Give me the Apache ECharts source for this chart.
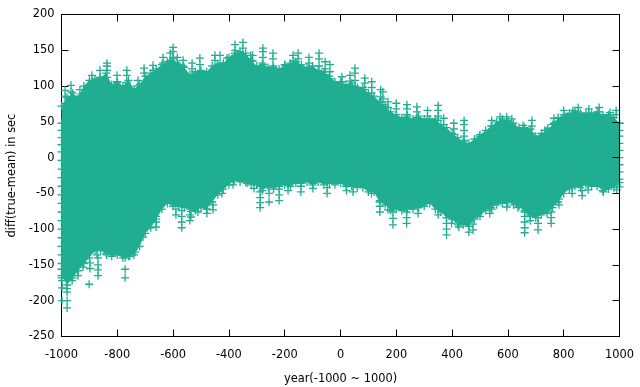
<!DOCTYPE html>
<html><head><meta charset="utf-8">
<style>html,body{margin:0;padding:0;background:#fff}#c{width:640px;height:387px}</style>
<script src="https://cdn.jsdelivr.net/npm/echarts@6/dist/echarts.min.js"></script>
</head><body><div id="c"></div>
<script>
// solid edge of the cloud, read every 20 years: [year, value]
const rimUpper = [[-1000,72],[-980,84],[-960,90],[-940,84],[-920,100],[-900,108],[-880,110],[-860,112],[-840,118],[-820,102],[-800,106],[-780,100],[-760,108],[-740,96],[-720,102],[-700,114],[-680,118],[-660,124],[-640,130],[-620,134],[-600,138],[-580,130],[-560,126],[-540,116],[-520,120],[-500,122],[-480,120],[-460,128],[-440,130],[-420,132],[-400,140],[-380,146],[-360,148],[-340,146],[-320,136],[-300,128],[-280,132],[-260,126],[-240,126],[-220,124],[-200,130],[-180,132],[-160,134],[-140,130],[-120,126],[-100,128],[-80,122],[-60,120],[-40,114],[-20,106],[0,106],[20,102],[40,104],[60,98],[80,98],[100,90],[120,86],[140,78],[160,72],[180,64],[200,60],[220,56],[240,58],[260,54],[280,58],[300,54],[320,54],[340,54],[360,46],[380,42],[400,34],[420,28],[440,22],[460,20],[480,26],[500,32],[520,38],[540,44],[560,50],[580,54],[600,52],[620,48],[640,42],[660,42],[680,40],[700,30],[720,34],[740,38],[760,46],[780,56],[800,60],[820,62],[840,64],[860,62],[880,62],[900,62],[920,64],[940,60],[960,60],[980,56],[1000,48]];
const rimLower = [[-1000,-165],[-980,-178],[-960,-168],[-940,-158],[-920,-148],[-900,-140],[-880,-130],[-860,-130],[-840,-134],[-820,-138],[-800,-136],[-780,-140],[-760,-138],[-740,-136],[-720,-124],[-700,-106],[-680,-98],[-660,-86],[-640,-72],[-620,-64],[-600,-68],[-580,-68],[-560,-70],[-540,-72],[-520,-74],[-500,-70],[-480,-72],[-460,-62],[-440,-52],[-420,-44],[-400,-38],[-380,-32],[-360,-34],[-340,-34],[-320,-38],[-300,-38],[-280,-46],[-260,-40],[-240,-44],[-220,-40],[-200,-38],[-180,-40],[-160,-36],[-140,-36],[-120,-34],[-100,-38],[-80,-34],[-60,-38],[-40,-36],[-20,-38],[0,-36],[20,-40],[40,-40],[60,-42],[80,-42],[100,-48],[120,-48],[140,-62],[160,-66],[180,-74],[200,-72],[220,-74],[240,-72],[260,-72],[280,-70],[300,-68],[320,-64],[340,-72],[360,-76],[380,-84],[400,-86],[420,-94],[440,-94],[460,-96],[480,-86],[500,-82],[520,-74],[540,-70],[560,-66],[580,-64],[600,-62],[620,-66],[640,-68],[660,-76],[680,-82],[700,-84],[720,-80],[740,-78],[760,-70],[780,-62],[800,-50],[820,-44],[840,-40],[860,-42],[880,-38],[900,-40],[920,-40],[940,-46],[960,-44],[980,-42],[1000,-35]];
// individually visible marks: [year, value, value, ...]
const upperMarks = [[-987,94,86,76],[-966,101,92,84,78],[-934,95,86,78],[-891,115,108],[-862,122,112,105],[-837,132,128,122,112],[-801,115,105,98],[-766,122,115,105,98],[-726,108,100,92],[-704,125,118,100,92],[-672,129,122],[-636,140,132],[-610,146,136],[-600,154,148,140],[-585,140,132],[-564,136,128],[-532,132,124,116],[-504,139,130,120,112],[-450,143,136,124,116],[-432,143,132,122],[-407,139,131],[-378,158,150,143,136],[-350,161,153,143,136],[-322,143,135],[-315,143,135],[-278,153,148,140,130,124],[-242,146,138,128,120],[-199,129,120],[-170,143,135,125],[-152,146,138,128],[-113,140,132,125,116],[-77,146,138,128,116],[-55,134,124,116],[-38,130,120,110],[5,113,106,100],[34,115,107,100],[52,125,118,108,100],[87,111,104,95],[112,106,98,90],[144,95,85,78],[152,92,82,74],[170,78,70],[200,76,68,60],[238,74,68,60,54],[274,71,64,56],[312,66,58],[350,73,66,58,52],[370,55,46],[406,48,40,32],[443,52,46,38,30,24],[498,30,24],[542,52,44],[572,57,50],[596,57,50],[614,54,46],[654,45,38],[686,52,44,34],[732,38,30],[743,41,33],[765,55,48,40],[800,66,60],[833,66,60],[852,70,64],[890,68,62],[927,70,64],[966,63,58],[988,66,60]];
const lowerMarks = [[-998,-200,-182,-172],[-980,-210,-200,-188,-183],[-962,-172,-165],[-941,-165,-158],[-923,-153,-146],[-901,-177],[-898,-155,-147],[-873,-136,-128],[-869,-165,-157,-150,-140],[-838,-136,-130],[-772,-168,-156,-140,-132],[-755,-138,-130],[-737,-132,-124],[-708,-111,-103],[-661,-97,-90,-82],[-647,-68,-60],[-590,-80,-72],[-569,-98,-90,-82,-74],[-540,-88,-80],[-536,-83,-75],[-511,-76,-70],[-479,-78,-72],[-457,-73,-66],[-425,-50,-42],[-385,-38,-30],[-335,-36,-28],[-310,-43,-35],[-288,-70,-63,-56,-48,-40],[-256,-62,-50,-42],[-220,-60,-52,-44,-36],[-188,-46,-38],[-142,-48,-40,-32],[-99,-43,-36],[-48,-50,-42,-34],[22,-46,-38],[45,-48,-40],[111,-50,-42],[141,-76,-68,-60,-52],[170,-73,-62,-54],[188,-94,-85,-76,-68],[237,-92,-84,-76,-68],[278,-78,-70],[350,-80,-72],[380,-108,-100,-92,-84],[398,-92,-84],[424,-97,-90],[460,-104,-96,-88],[475,-101,-93],[492,-80,-72],[535,-78,-70],[542,-72,-65],[596,-69,-62],[636,-70,-62],[660,-105,-98,-90,-82,-74],[680,-88,-80],[708,-101,-92,-84,-76],[755,-92,-84,-76],[783,-66,-58],[830,-50,-42],[866,-53,-46],[888,-45,-38],[942,-48,-40],[990,-45,-38]];
const edgeMarks = [[-1000,48,38,28,18,8,-4,-16,-28,-40,-52,-64,-76,-88,-100,-112,-124,-136,-148,-156,-168],[1000,48,38,30,20,10,0,-10,-20,-30,-41]];

const COLOR = '#1fae91';
const toPoints = rows => rows.flatMap(r => r.slice(1).map(v => [r[0], v]));
const outline = rimUpper.concat(rimLower.slice().reverse());
const chart = echarts.init(document.getElementById('c'), null, {renderer:'canvas'});
const font = {fontFamily:'"DejaVu Sans"', fontSize:11.4, color:'#000'};
const axisX = (pos, labels) => ({type:'value', position:pos, min:-1000, max:1000, interval:200, z:1,
  axisLine:{show:true,onZero:false,lineStyle:{color:'#000',width:1}},
  axisTick:{show:true,inside:true,length:7,lineStyle:{color:'#000',width:1}},
  axisLabel:Object.assign({show:labels,margin:13,hideOverlap:false,showMinLabel:true,showMaxLabel:true,formatter:v => String(v)},font),
  splitLine:{show:false}});
const axisY = (pos, labels, z) => ({type:'value', position:pos, min:-250, max:200, interval:50, z:z,
  axisLine:{show:true,onZero:false,lineStyle:{color:'#000',width:1}},
  axisTick:{show:true,inside:true,length:7,lineStyle:{color:'#000',width:1}},
  axisLabel:Object.assign({show:labels,margin:7,padding:[3,0,0,0],showMinLabel:true,showMaxLabel:true,formatter:v => String(v)},font),
  splitLine:{show:false}});
const xBottom = axisX('bottom', true);
xBottom.name = 'year(-1000 ~ 1000)'; xBottom.nameLocation='middle'; xBottom.nameGap=37;
xBottom.nameTextStyle = font;
const yLeft = axisY('left', true, 1);
yLeft.name = 'diff(true-mean) in sec'; yLeft.nameLocation='middle'; yLeft.nameGap=40;
yLeft.nameTextStyle = font;
chart.setOption({
  animation:false,
  backgroundColor:'#fff',
  grid:{left:61.5,top:14.5,width:558,height:322,containLabel:false,outerBoundsMode:'none'},
  xAxis:[xBottom, axisX('top', false)],
  yAxis:[yLeft, axisY('right', false, 8)],
  series:[
    {type:'custom', name:'body', coordinateSystem:'cartesian2d', clip:false, z:3, silent:true,
     data:outline,
     renderItem:(p, api) => {
       if (p.dataIndex !== 0) return null;
       return {type:'polygon', shape:{points:outline.map(d => api.coord(d))}, style:{fill:COLOR}};
     }},
    {type:'scatter', name:'diff', clip:false, z:4, silent:true,
     data:[...rimUpper, ...rimLower, ...toPoints(upperMarks), ...toPoints(lowerMarks), ...toPoints(edgeMarks)],
     symbol:'path://M0 50L100 50M50 0L50 100', symbolSize:8, large:false,
     itemStyle:{color:'rgba(0,0,0,0)',borderColor:COLOR,borderWidth:1.3,opacity:1}}
  ]
});
</script></body></html>
